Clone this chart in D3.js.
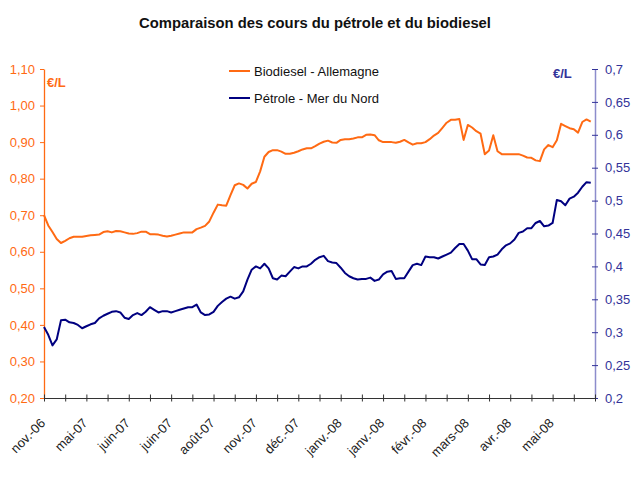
<!DOCTYPE html>
<html>
<head>
<meta charset="utf-8">
<script src="https://cdn.jsdelivr.net/npm/d3@7/dist/d3.min.js"></script>
<style>
  body { margin: 0; background: #fff; }
  svg { display: block; font-family: "Liberation Sans", Arial, sans-serif; }
</style>
</head>
<body>
<svg id="chart" width="640" height="482"></svg>
<script>
// ---- DATA ----
const categoryLabels = ["nov.-06","mai-07","juin-07","juin-07","août-07","nov.-07","déc.-07","janv.-08","janv.-08","févr.-08","mars-08","avr.-08","mai-08"];
const leftTicks = [0.2,0.3,0.4,0.5,0.6,0.7,0.8,0.9,1.0,1.1];
const rightTicks = [0.2,0.25,0.3,0.35,0.4,0.45,0.5,0.55,0.6,0.65,0.7];
const seriesNames = ["Biodiesel - Allemagne","Pétrole - Mer du Nord"];
// Biodiesel (€/L, left axis)
const biodiesel = [
0.700,0.672,0.654,0.635,0.624,0.630,0.637,0.641,0.641,0.641,
0.643,0.645,0.646,0.647,0.654,0.656,0.653,0.657,0.656,0.653,
0.650,0.649,0.651,0.655,0.655,0.648,0.648,0.647,0.644,0.642,
0.644,0.647,0.650,0.653,0.653,0.653,0.662,0.666,0.671,0.683,
0.707,0.729,0.727,0.726,0.755,0.782,0.787,0.783,0.773,0.786,
0.791,0.820,0.860,0.873,0.878,0.878,0.874,0.868,0.868,0.871,
0.875,0.880,0.883,0.883,0.889,0.896,0.901,0.904,0.899,0.898,
0.906,0.908,0.908,0.910,0.913,0.913,0.920,0.921,0.919,0.905,
0.900,0.900,0.900,0.898,0.901,0.906,0.899,0.893,0.897,0.897,
0.900,0.908,0.918,0.925,0.939,0.953,0.961,0.961,0.963,0.906,
0.947,0.940,0.930,0.923,0.867,0.877,0.919,0.875,0.867,0.867,
0.867,0.867,0.867,0.863,0.858,0.857,0.850,0.848,0.880,0.892,
0.886,0.905,0.950,0.944,0.938,0.935,0.926,0.955,0.962,0.956
];
// Pétrole (€/L, right axis)
const petrole = [
0.308,0.296,0.280,0.289,0.318,0.319,0.315,0.314,0.311,0.306,
0.309,0.312,0.314,0.321,0.325,0.328,0.331,0.332,0.330,0.322,
0.320,0.326,0.329,0.326,0.331,0.338,0.334,0.330,0.332,0.332,
0.330,0.332,0.334,0.336,0.338,0.338,0.342,0.330,0.326,0.327,
0.331,0.340,0.346,0.351,0.354,0.351,0.353,0.362,0.380,0.395,
0.400,0.397,0.404,0.397,0.382,0.380,0.386,0.385,0.392,0.399,
0.397,0.400,0.400,0.404,0.410,0.414,0.416,0.408,0.406,0.405,
0.398,0.390,0.385,0.382,0.380,0.381,0.381,0.383,0.378,0.380,
0.388,0.392,0.393,0.381,0.382,0.382,0.392,0.402,0.404,0.402,
0.415,0.414,0.414,0.412,0.415,0.418,0.421,0.428,0.434,0.434,
0.424,0.411,0.411,0.403,0.402,0.414,0.415,0.418,0.426,0.432,
0.435,0.441,0.451,0.453,0.458,0.458,0.466,0.469,0.461,0.462,
0.466,0.501,0.499,0.493,0.503,0.506,0.512,0.521,0.528,0.527
];
const nCategories = 130;     // category slots on the axis
const tickEvery = 5;          // categories per tick mark
const labelEvery = 10;        // categories per label

// ---- CHART ----
const svg = d3.select("#chart");
const orange = "#FF6A13", navy = "#000080", rightAxisCol = "#8C8CCC", rightText = "#333399";
const fmt = v => String(v).replace(".", ",");

const x = d3.scaleLinear().domain([0, nCategories]).range([44, 595]);
const yL = d3.scaleLinear().domain([0.2, 1.1]).range([398, 69]);
const yR = d3.scaleLinear().domain([0.2, 0.7]).range([398, 69]);

// Title
svg.append("text").attr("x", 315).attr("y", 28).attr("text-anchor", "middle")
  .attr("font-size", 14.8).attr("font-weight", "bold").attr("fill", "#111")
  .text("Comparaison des cours du pétrole et du biodiesel");

// Left axis
const gL = svg.append("g").attr("transform", `translate(${x(0)},0)`)
  .call(d3.axisLeft(yL).tickValues(leftTicks).tickSizeInner(4).tickSizeOuter(0).tickPadding(5)
    .tickFormat(d => d3.format(".2f")(d).replace(".", ",")));
gL.select(".domain").attr("stroke", orange).attr("stroke-width", 1.3);
gL.selectAll(".tick line").attr("stroke", orange);
gL.selectAll(".tick text").attr("fill", orange).attr("font-size", 13).attr("font-family", "Liberation Sans, Arial, sans-serif");

// Right axis
const gR = svg.append("g").attr("transform", `translate(${x(nCategories)},0)`)
  .call(d3.axisRight(yR).tickValues(rightTicks).tickSizeInner(3).tickSizeOuter(0).tickPadding(7)
    .tickFormat(fmt));
gR.select(".domain").attr("stroke", rightAxisCol).attr("stroke-width", 1.5);
gR.selectAll(".tick line").attr("stroke", rightText).attr("x1", -3);
gR.selectAll(".tick text").attr("fill", rightText).attr("font-size", 13).attr("font-family", "Liberation Sans, Arial, sans-serif");

// Bottom axis
const tickVals = d3.range(0, nCategories + 1, tickEvery);
const gB = svg.append("g").attr("transform", `translate(0,${yL(0.2)})`)
  .call(d3.axisBottom(x).tickValues(tickVals).tickSizeInner(3.5).tickSizeOuter(0).tickFormat(""));
gB.select(".domain").attr("stroke", "#333");
gB.selectAll(".tick line").attr("stroke", "#333").attr("y1", -3.5);
gB.selectAll(".tick text").remove();

svg.append("g").selectAll("text").data(categoryLabels).join("text")
  .attr("transform", (d, i) => `translate(${x(i * labelEvery) + 2},${yL(0.2) + 26}) rotate(-45)`)
  .attr("text-anchor", "end").attr("font-size", 13).attr("fill", "#222")
  .text(d => d);

// Unit labels
svg.append("text").attr("x", 47).attr("y", 87).attr("font-size", 13).attr("font-weight", "bold")
  .attr("fill", orange).text("€/L");
svg.append("text").attr("x", 553).attr("y", 78).attr("font-size", 13).attr("font-weight", "bold")
  .attr("fill", rightText).text("€/L");

// Lines
const lineL = d3.line().x((d, i) => x(i)).y(d => yL(d));
const lineR = d3.line().x((d, i) => x(i)).y(d => yR(d));
svg.append("path").datum(biodiesel).attr("d", lineL).attr("fill", "none")
  .attr("stroke", orange).attr("stroke-width", 2).attr("stroke-linejoin", "round");
svg.append("path").datum(petrole).attr("d", lineR).attr("fill", "none")
  .attr("stroke", navy).attr("stroke-width", 2).attr("stroke-linejoin", "round");

// Legend
const legend = svg.append("g");
const legendItems = [{name: seriesNames[0], color: orange, y: 71}, {name: seriesNames[1], color: navy, y: 98}];
legendItems.forEach(it => {
  legend.append("line").attr("x1", 229).attr("x2", 250).attr("y1", it.y).attr("y2", it.y)
    .attr("stroke", it.color).attr("stroke-width", 2);
  legend.append("text").attr("x", 254).attr("y", it.y + 4.5).attr("font-size", 13).attr("fill", "#111").text(it.name);
});
</script>
</body>
</html>
